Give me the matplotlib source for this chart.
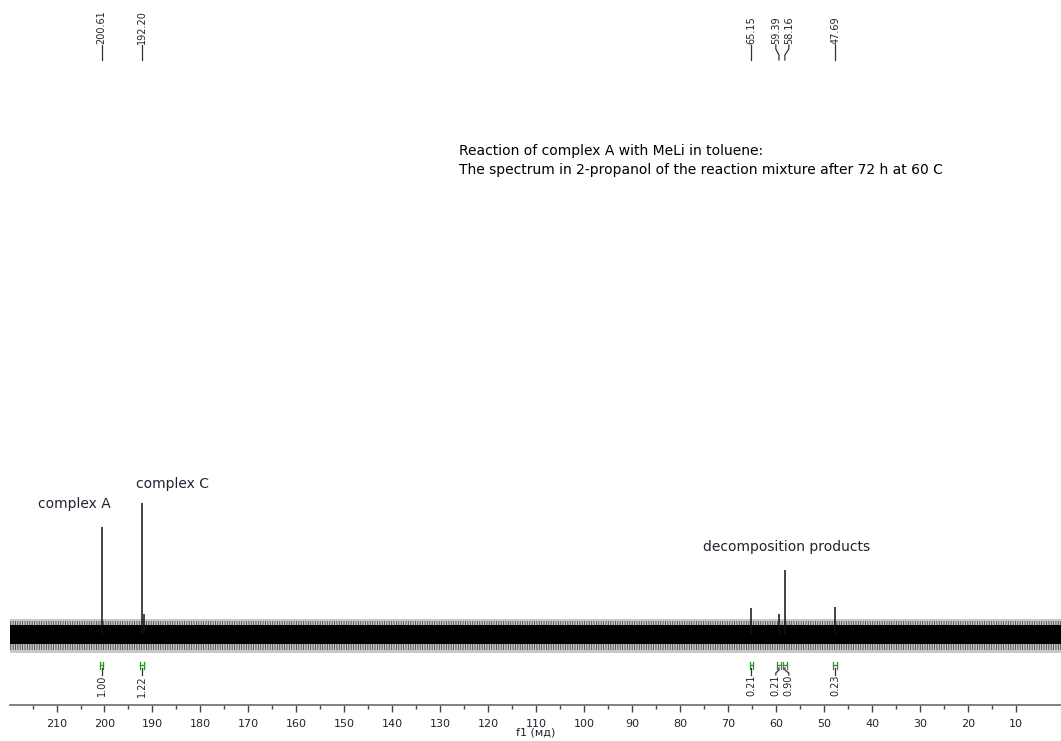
import numpy as np
import matplotlib
matplotlib.use('Agg')
import matplotlib.pyplot as plt

# 13C spectrum: picked peaks (ppm) and their heights above the baseline
peak_ppm = [200.61, 192.20, 191.70, 65.15, 59.39, 58.16, 47.69]
peak_height = [107, 131, 20, 26, 20, 64, 27]

# labels shown at the top (peak list) and their label positions
label_ppm = [200.61, 192.20, 65.15, 59.39, 58.16, 47.69]
label_pos = [200.61, 192.20, 65.15, 60.05, 57.34, 47.69]

# integrals under the peaks
integral_ppm = [200.61, 192.20, 65.15, 59.39, 58.16, 47.69]
integral_val = ['1.00', '1.22', '0.21', '0.21', '0.90', '0.23']
integral_pos = [200.61, 192.20, 65.15, 60.05, 57.34, 47.69]

major_ticks = list(range(10, 211, 10))
minor_ticks = list(range(15, 216, 10))

txt_col = '#1e2430'
green = '#1f9a1f'

plt.rcParams['hatch.linewidth'] = 0.6

fig = plt.figure(figsize=(10.61, 7.41), dpi=100)
ax = fig.add_axes([10 / 1061, 36 / 741, 1051 / 1061, 705 / 741])
ax.set_xlim(219.7, 0.6)
ax.set_ylim(-71, 634)

# baseline noise band: light fringe, hatched spikes, dense core
x_band = np.array([219.7, 0.6])
ax.fill_between(x_band, -19, 15, color='#c8c8c8', linewidth=0)
ax.fill_between(x_band, -16, 13, facecolor='none', edgecolor='#444444',
                hatch='|||||||', linewidth=0)
ax.fill_between(x_band, -10, 9, color='black', linewidth=0)

# peaks
ax.vlines(peak_ppm, 0, peak_height, color='#111111', linewidth=1.1)

# peak list labels along the top
for p, lp in zip(label_ppm, label_pos):
    ax.plot([lp, lp, p, p], [589, 585, 579, 574], color='#333333', lw=0.9)
    ax.text(lp, 590, '%.2f' % p, rotation=90, ha='center', va='bottom',
            fontsize=7, color=txt_col)

# integral brackets and values
for p, v, lp in zip(integral_ppm, integral_val, integral_pos):
    ax.plot([p - 0.35, p + 0.35], [-31, -31], color=green, lw=0.9)
    ax.plot([p - 0.35, p - 0.35], [-28, -35], color=green, lw=0.9)
    ax.plot([p + 0.35, p + 0.35], [-28, -35], color=green, lw=0.9)
    ax.plot([p, p, lp, lp], [-34, -36, -39, -41], color='#333333', lw=0.9)
    ax.text(lp, -41, v, rotation=90, ha='center', va='top',
            fontsize=7, color=txt_col)

# annotations
ax.text(0.4271, 0.773, 'Reaction of complex A with MeLi in toluene:\n'
        'The spectrum in 2-propanol of the reaction mixture after 72 h at 60 C',
        transform=ax.transAxes, fontsize=10, color='black',
        ha='left', va='center', linespacing=1.45)
ax.text(206.2, 130, 'complex A', fontsize=10, color=txt_col, ha='center', va='center')
ax.text(185.8, 150, 'complex C', fontsize=10, color=txt_col, ha='center', va='center')
ax.text(57.8, 87, 'decomposition products', fontsize=10, color=txt_col,
        ha='center', va='center')

# axis styling
for s in ['top', 'left', 'right']:
    ax.spines[s].set_visible(False)
ax.spines['bottom'].set_color('#777777')
ax.spines['bottom'].set_linewidth(1.3)
ax.set_yticks([])
ax.set_xticks(major_ticks)
ax.set_xticks(minor_ticks, minor=True)
ax.tick_params(axis='x', which='major', direction='out', length=5, width=1,
               color='#444444', labelsize=8, labelcolor=txt_col, pad=5)
ax.tick_params(axis='x', which='minor', direction='out', length=3, width=1,
               color='#444444')
ax.set_xlabel('f1 (мд)', fontsize=8, color=txt_col, labelpad=-1)

fig.savefig('out.png', dpi=100)
